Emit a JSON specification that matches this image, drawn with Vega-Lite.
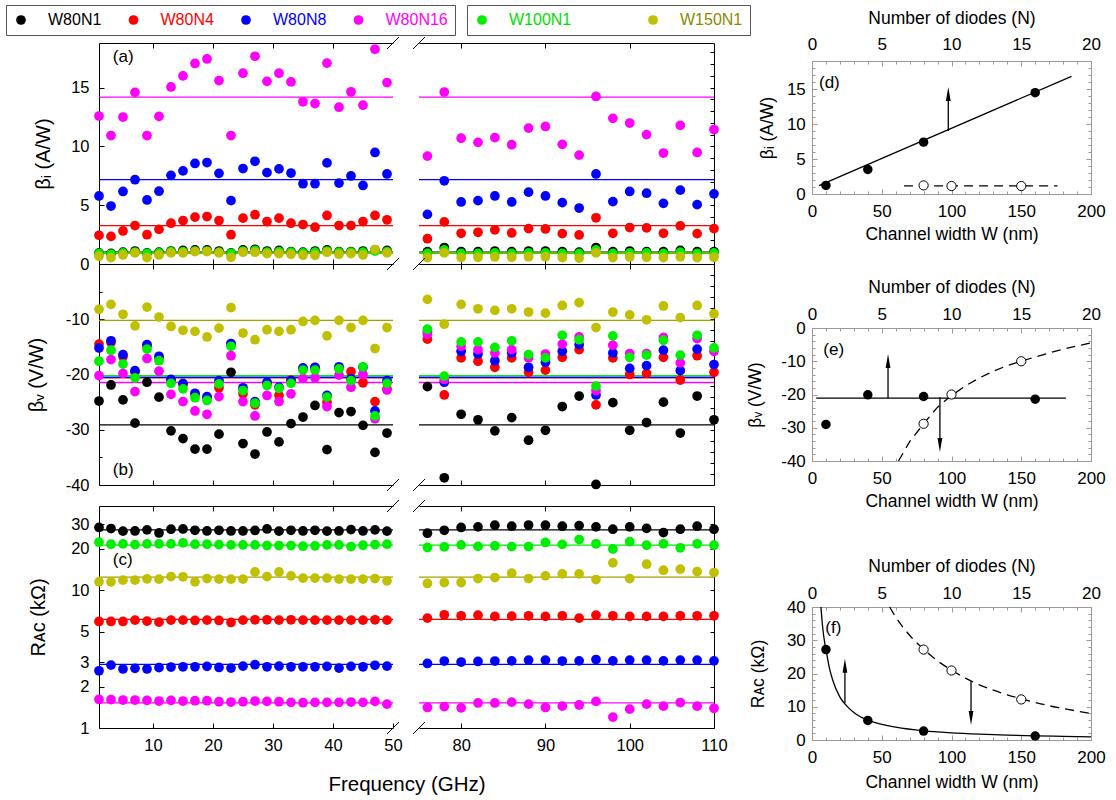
{
"$schema":"https://vega.github.io/schema/vega-lite/v6.json",
"padding":{"left":5,"top":4,"right":5,"bottom":5},
"background":"white",
"config":{
 "font":"Liberation Sans",
 "view":{"stroke":null},
 "axis":{"labelFont":"Liberation Sans","titleFont":"Liberation Sans","titleFontWeight":"normal","labelColor":"black","titleColor":"black","domainColor":"black","tickColor":"black","grid":false,"labelFlush":false,"labelOverlap":false,"domainWidth":1,"tickWidth":1,"titleLimit":0},
 "text":{"font":"Liberation Sans"}
},
"datasets":{
"mn":[
{"s":"W80N1","bi":1.0,"bv":-29.1,"r":27.4},
{"s":"W80N4","bi":3.27,"bv":-20.6,"r":6.13},
{"s":"W80N8","bi":7.17,"bv":-20.5,"r":2.89},
{"s":"W80N16","bi":14.2,"bv":-21.45,"r":1.52},
{"s":"W100N1","bi":0.97,"bv":-20.2,"r":21.2},
{"s":"W150N1","bi":0.9,"bv":-10.2,"r":12.42}
],
"m":[
{"s":"W80N1","f":1,"bi":0.95,"bv":-24.8,"r":28.5},
{"s":"W80N1","f":3,"bi":0.9,"bv":-21.9,"r":28.0},
{"s":"W80N1","f":5,"bi":1.0,"bv":-24.6,"r":26.8},
{"s":"W80N1","f":7,"bi":1.1,"bv":-28.8,"r":26.9},
{"s":"W80N1","f":9,"bi":0.95,"bv":-21.4,"r":27.4},
{"s":"W80N1","f":11,"bi":1.0,"bv":-24.1,"r":26.0},
{"s":"W80N1","f":13,"bi":1.1,"bv":-30.2,"r":27.7},
{"s":"W80N1","f":15,"bi":1.15,"bv":-31.6,"r":27.8},
{"s":"W80N1","f":17,"bi":1.2,"bv":-33.5,"r":27.2},
{"s":"W80N1","f":19,"bi":1.2,"bv":-33.5,"r":26.9},
{"s":"W80N1","f":21,"bi":1.1,"bv":-30.8,"r":27.2},
{"s":"W80N1","f":23,"bi":0.95,"bv":-19.6,"r":26.9},
{"s":"W80N1","f":25,"bi":1.2,"bv":-32.5,"r":26.9},
{"s":"W80N1","f":27,"bi":1.25,"bv":-34.4,"r":27.1},
{"s":"W80N1","f":29,"bi":1.1,"bv":-30.4,"r":27.8},
{"s":"W80N1","f":31,"bi":1.15,"bv":-32.2,"r":26.8},
{"s":"W80N1","f":33,"bi":1.05,"bv":-28.9,"r":27.2},
{"s":"W80N1","f":35,"bi":1.0,"bv":-27.7,"r":26.9},
{"s":"W80N1","f":37,"bi":1.1,"bv":-25.6,"r":27.2},
{"s":"W80N1","f":39,"bi":1.2,"bv":-33.6,"r":26.8},
{"s":"W80N1","f":41,"bi":1.05,"bv":-26.9,"r":26.9},
{"s":"W80N1","f":43,"bi":1.05,"bv":-26.7,"r":27.5},
{"s":"W80N1","f":45,"bi":1.1,"bv":-29.2,"r":26.9},
{"s":"W80N1","f":47,"bi":1.2,"bv":-34.1,"r":27.4},
{"s":"W80N1","f":49,"bi":1.15,"bv":-30.6,"r":26.8},
{"s":"W80N1","f":76,"bi":1.05,"bv":-22.2,"r":25.9},
{"s":"W80N1","f":78,"bi":1.4,"bv":-38.7,"r":27.2},
{"s":"W80N1","f":80,"bi":1.05,"bv":-27.2,"r":28.5},
{"s":"W80N1","f":82,"bi":1.05,"bv":-28.2,"r":28.8},
{"s":"W80N1","f":84,"bi":1.1,"bv":-30.2,"r":29.6},
{"s":"W80N1","f":86,"bi":1.05,"bv":-27.8,"r":29.1},
{"s":"W80N1","f":88,"bi":1.1,"bv":-31.9,"r":29.7},
{"s":"W80N1","f":90,"bi":1.1,"bv":-30.1,"r":29.6},
{"s":"W80N1","f":92,"bi":1.05,"bv":-25.8,"r":29.1},
{"s":"W80N1","f":94,"bi":1.0,"bv":-23.9,"r":29.4},
{"s":"W80N1","f":96,"bi":1.4,"bv":-39.9,"r":28.8},
{"s":"W80N1","f":98,"bi":1.05,"bv":-25.1,"r":27.7},
{"s":"W80N1","f":100,"bi":1.1,"bv":-30.1,"r":28.8},
{"s":"W80N1","f":102,"bi":1.05,"bv":-28.7,"r":28.1},
{"s":"W80N1","f":104,"bi":1.05,"bv":-25.0,"r":26.2},
{"s":"W80N1","f":106,"bi":1.15,"bv":-30.6,"r":27.7},
{"s":"W80N1","f":108,"bi":1.05,"bv":-23.9,"r":29.1},
{"s":"W80N1","f":110,"bi":1.05,"bv":-28.2,"r":27.7},
{"s":"W80N4","f":1,"bi":2.44,"bv":-14.5,"r":5.93},
{"s":"W80N4","f":3,"bi":2.35,"bv":-14.2,"r":5.93},
{"s":"W80N4","f":5,"bi":2.81,"bv":-16.8,"r":5.93},
{"s":"W80N4","f":7,"bi":3.27,"bv":-19.6,"r":6.06},
{"s":"W80N4","f":9,"bi":2.49,"bv":-14.8,"r":5.96},
{"s":"W80N4","f":11,"bi":2.95,"bv":-17.0,"r":5.86},
{"s":"W80N4","f":13,"bi":3.47,"bv":-21.0,"r":6.06},
{"s":"W80N4","f":15,"bi":3.7,"bv":-21.8,"r":6.06},
{"s":"W80N4","f":17,"bi":3.99,"bv":-23.6,"r":6.03},
{"s":"W80N4","f":19,"bi":4.04,"bv":-24.2,"r":6.06},
{"s":"W80N4","f":21,"bi":3.7,"bv":-22.4,"r":6.03},
{"s":"W80N4","f":23,"bi":2.49,"bv":-14.6,"r":5.83},
{"s":"W80N4","f":25,"bi":3.9,"bv":-23.5,"r":6.06},
{"s":"W80N4","f":27,"bi":4.19,"bv":-25.5,"r":6.1},
{"s":"W80N4","f":29,"bi":3.61,"bv":-21.6,"r":6.1},
{"s":"W80N4","f":31,"bi":3.9,"bv":-23.8,"r":6.06},
{"s":"W80N4","f":33,"bi":3.47,"bv":-21.0,"r":6.1},
{"s":"W80N4","f":35,"bi":3.36,"bv":-19.0,"r":6.06},
{"s":"W80N4","f":37,"bi":3.13,"bv":-18.8,"r":6.06},
{"s":"W80N4","f":39,"bi":4.13,"bv":-25.0,"r":6.06},
{"s":"W80N4","f":41,"bi":3.27,"bv":-18.8,"r":6.06},
{"s":"W80N4","f":43,"bi":3.27,"bv":-19.5,"r":6.06},
{"s":"W80N4","f":45,"bi":3.61,"bv":-21.5,"r":6.06},
{"s":"W80N4","f":47,"bi":4.13,"bv":-24.9,"r":6.1},
{"s":"W80N4","f":49,"bi":3.76,"bv":-22.6,"r":6.06},
{"s":"W80N4","f":76,"bi":2.15,"bv":-13.6,"r":6.27},
{"s":"W80N4","f":78,"bi":3.58,"bv":-23.7,"r":6.63},
{"s":"W80N4","f":80,"bi":2.61,"bv":-17.0,"r":6.52},
{"s":"W80N4","f":82,"bi":2.7,"bv":-17.6,"r":6.59},
{"s":"W80N4","f":84,"bi":2.9,"bv":-18.7,"r":6.45},
{"s":"W80N4","f":86,"bi":2.64,"bv":-17.0,"r":6.48},
{"s":"W80N4","f":88,"bi":3.01,"bv":-19.6,"r":6.52},
{"s":"W80N4","f":90,"bi":2.98,"bv":-19.2,"r":6.45},
{"s":"W80N4","f":92,"bi":2.58,"bv":-16.9,"r":6.52},
{"s":"W80N4","f":94,"bi":2.47,"bv":-15.5,"r":6.27},
{"s":"W80N4","f":96,"bi":3.93,"bv":-25.5,"r":6.59},
{"s":"W80N4","f":98,"bi":2.61,"bv":-17.0,"r":6.52},
{"s":"W80N4","f":100,"bi":3.1,"bv":-20.0,"r":6.45},
{"s":"W80N4","f":102,"bi":3.07,"bv":-19.8,"r":6.45},
{"s":"W80N4","f":104,"bi":2.61,"bv":-16.9,"r":6.45},
{"s":"W80N4","f":106,"bi":3.24,"bv":-21.0,"r":6.52},
{"s":"W80N4","f":108,"bi":2.58,"bv":-16.6,"r":6.52},
{"s":"W80N4","f":110,"bi":3.01,"bv":-19.6,"r":6.52},
{"s":"W80N8","f":1,"bi":5.79,"bv":-15.2,"r":2.6},
{"s":"W80N8","f":3,"bi":4.93,"bv":-13.9,"r":2.86},
{"s":"W80N8","f":5,"bi":6.17,"bv":-16.4,"r":2.68},
{"s":"W80N8","f":7,"bi":7.17,"bv":-19.3,"r":2.71},
{"s":"W80N8","f":9,"bi":5.45,"bv":-14.6,"r":2.68},
{"s":"W80N8","f":11,"bi":6.19,"bv":-16.7,"r":2.74},
{"s":"W80N8","f":13,"bi":7.54,"bv":-20.9,"r":2.77},
{"s":"W80N8","f":15,"bi":7.92,"bv":-21.6,"r":2.78},
{"s":"W80N8","f":17,"bi":8.55,"bv":-23.4,"r":2.78},
{"s":"W80N8","f":19,"bi":8.63,"bv":-24.0,"r":2.8},
{"s":"W80N8","f":21,"bi":7.71,"bv":-21.1,"r":2.75},
{"s":"W80N8","f":23,"bi":5.39,"bv":-14.4,"r":2.72},
{"s":"W80N8","f":25,"bi":8.12,"bv":-22.4,"r":2.81},
{"s":"W80N8","f":27,"bi":8.74,"bv":-24.9,"r":2.88},
{"s":"W80N8","f":29,"bi":7.77,"bv":-21.4,"r":2.78},
{"s":"W80N8","f":31,"bi":8.09,"bv":-22.3,"r":2.81},
{"s":"W80N8","f":33,"bi":7.74,"bv":-21.1,"r":2.78},
{"s":"W80N8","f":35,"bi":6.83,"bv":-18.8,"r":2.78},
{"s":"W80N8","f":37,"bi":6.83,"bv":-18.7,"r":2.78},
{"s":"W80N8","f":39,"bi":8.6,"bv":-23.8,"r":2.8},
{"s":"W80N8","f":41,"bi":6.88,"bv":-18.6,"r":2.72},
{"s":"W80N8","f":43,"bi":7.49,"bv":-20.8,"r":2.8},
{"s":"W80N8","f":45,"bi":6.68,"bv":-18.7,"r":2.78},
{"s":"W80N8","f":47,"bi":9.49,"bv":-26.6,"r":2.85},
{"s":"W80N8","f":49,"bi":7.66,"bv":-21.1,"r":2.81},
{"s":"W80N8","f":76,"bi":4.22,"bv":-12.3,"r":2.94},
{"s":"W80N8","f":78,"bi":7.08,"bv":-21.4,"r":3.06},
{"s":"W80N8","f":80,"bi":5.28,"bv":-15.8,"r":3.01},
{"s":"W80N8","f":82,"bi":5.39,"bv":-16.3,"r":3.04},
{"s":"W80N8","f":84,"bi":5.79,"bv":-17.5,"r":3.06},
{"s":"W80N8","f":86,"bi":5.28,"bv":-16.1,"r":3.07},
{"s":"W80N8","f":88,"bi":6.11,"bv":-18.7,"r":3.11},
{"s":"W80N8","f":90,"bi":5.79,"bv":-17.8,"r":3.11},
{"s":"W80N8","f":92,"bi":5.22,"bv":-15.8,"r":3.06},
{"s":"W80N8","f":94,"bi":4.76,"bv":-14.6,"r":3.07},
{"s":"W80N8","f":96,"bi":7.66,"bv":-23.7,"r":3.14},
{"s":"W80N8","f":98,"bi":5.31,"bv":-16.1,"r":3.07},
{"s":"W80N8","f":100,"bi":6.17,"bv":-18.9,"r":3.11},
{"s":"W80N8","f":102,"bi":6.02,"bv":-18.4,"r":3.11},
{"s":"W80N8","f":104,"bi":5.16,"bv":-15.6,"r":3.07},
{"s":"W80N8","f":106,"bi":6.28,"bv":-19.3,"r":3.11},
{"s":"W80N8","f":108,"bi":5.05,"bv":-15.4,"r":3.11},
{"s":"W80N8","f":110,"bi":5.97,"bv":-18.2,"r":3.07},
{"s":"W80N16","f":1,"bi":12.59,"bv":-20.2,"r":1.61},
{"s":"W80N16","f":3,"bi":10.93,"bv":-17.3,"r":1.605},
{"s":"W80N16","f":5,"bi":12.5,"bv":-19.8,"r":1.596},
{"s":"W80N16","f":7,"bi":14.6,"bv":-23.1,"r":1.596},
{"s":"W80N16","f":9,"bi":10.93,"bv":-17.1,"r":1.587},
{"s":"W80N16","f":11,"bi":12.56,"bv":-19.4,"r":1.569},
{"s":"W80N16","f":13,"bi":15.06,"bv":-23.6,"r":1.587},
{"s":"W80N16","f":15,"bi":16.0,"bv":-24.9,"r":1.569},
{"s":"W80N16","f":17,"bi":17.06,"bv":-26.6,"r":1.578},
{"s":"W80N16","f":19,"bi":17.44,"bv":-27.2,"r":1.578},
{"s":"W80N16","f":21,"bi":15.6,"bv":-24.0,"r":1.552},
{"s":"W80N16","f":23,"bi":10.93,"bv":-16.6,"r":1.543},
{"s":"W80N16","f":25,"bi":16.23,"bv":-24.9,"r":1.552},
{"s":"W80N16","f":27,"bi":17.67,"bv":-27.5,"r":1.569},
{"s":"W80N16","f":29,"bi":15.54,"bv":-23.8,"r":1.56},
{"s":"W80N16","f":31,"bi":16.23,"bv":-24.9,"r":1.552},
{"s":"W80N16","f":33,"bi":15.49,"bv":-23.5,"r":1.535},
{"s":"W80N16","f":35,"bi":13.8,"bv":-20.7,"r":1.526},
{"s":"W80N16","f":37,"bi":13.65,"bv":-20.6,"r":1.535},
{"s":"W80N16","f":39,"bi":17.09,"bv":-25.8,"r":1.535},
{"s":"W80N16","f":41,"bi":13.34,"bv":-20.1,"r":1.535},
{"s":"W80N16","f":43,"bi":14.65,"bv":-22.3,"r":1.543},
{"s":"W80N16","f":45,"bi":13.51,"bv":-20.0,"r":1.535},
{"s":"W80N16","f":47,"bi":18.27,"bv":-28.0,"r":1.56},
{"s":"W80N16","f":49,"bi":15.43,"bv":-22.8,"r":1.49},
{"s":"W80N16","f":76,"bi":9.18,"bv":-12.7,"r":1.41},
{"s":"W80N16","f":78,"bi":14.63,"bv":-20.9,"r":1.43},
{"s":"W80N16","f":80,"bi":10.7,"bv":-14.9,"r":1.4},
{"s":"W80N16","f":82,"bi":10.35,"bv":-15.5,"r":1.52},
{"s":"W80N16","f":84,"bi":10.75,"bv":-16.1,"r":1.52},
{"s":"W80N16","f":86,"bi":10.15,"bv":-15.5,"r":1.54},
{"s":"W80N16","f":88,"bi":11.56,"bv":-17.0,"r":1.49},
{"s":"W80N16","f":90,"bi":11.7,"bv":-16.3,"r":1.41},
{"s":"W80N16","f":92,"bi":10.18,"bv":-14.5,"r":1.44},
{"s":"W80N16","f":94,"bi":9.26,"bv":-13.2,"r":1.47},
{"s":"W80N16","f":96,"bi":14.25,"bv":-22.9,"r":1.56},
{"s":"W80N16","f":98,"bi":12.39,"bv":-14.7,"r":1.2},
{"s":"W80N16","f":100,"bi":11.99,"bv":-16.2,"r":1.37},
{"s":"W80N16","f":102,"bi":11.01,"bv":-16.2,"r":1.49},
{"s":"W80N16","f":104,"bi":9.44,"bv":-13.3,"r":1.44},
{"s":"W80N16","f":106,"bi":11.79,"bv":-17.9,"r":1.53},
{"s":"W80N16","f":108,"bi":9.49,"bv":-13.5,"r":1.44},
{"s":"W80N16","f":110,"bi":11.44,"bv":-15.8,"r":1.39},
{"s":"W100N1","f":1,"bi":0.9,"bv":-17.6,"r":22.27},
{"s":"W100N1","f":3,"bi":0.85,"bv":-15.6,"r":21.54},
{"s":"W100N1","f":5,"bi":0.95,"bv":-18.1,"r":21.66},
{"s":"W100N1","f":7,"bi":1.0,"bv":-20.6,"r":21.42},
{"s":"W100N1","f":9,"bi":0.9,"bv":-15.4,"r":21.66},
{"s":"W100N1","f":11,"bi":0.95,"bv":-17.5,"r":21.66},
{"s":"W100N1","f":13,"bi":1.05,"bv":-21.6,"r":21.66},
{"s":"W100N1","f":15,"bi":1.05,"bv":-22.6,"r":22.02},
{"s":"W100N1","f":17,"bi":1.1,"bv":-24.2,"r":21.54},
{"s":"W100N1","f":19,"bi":1.1,"bv":-24.7,"r":21.54},
{"s":"W100N1","f":21,"bi":1.0,"bv":-21.7,"r":21.42},
{"s":"W100N1","f":23,"bi":0.9,"bv":-14.9,"r":21.3},
{"s":"W100N1","f":25,"bi":1.1,"bv":-22.9,"r":21.3},
{"s":"W100N1","f":27,"bi":1.15,"bv":-25.2,"r":21.3},
{"s":"W100N1","f":29,"bi":1.0,"bv":-22.0,"r":21.07},
{"s":"W100N1","f":31,"bi":1.05,"bv":-22.5,"r":21.07},
{"s":"W100N1","f":33,"bi":1.0,"bv":-21.6,"r":21.07},
{"s":"W100N1","f":35,"bi":0.95,"bv":-19.2,"r":20.84},
{"s":"W100N1","f":37,"bi":1.0,"bv":-19.2,"r":20.96},
{"s":"W100N1","f":39,"bi":1.1,"bv":-24.1,"r":21.3},
{"s":"W100N1","f":41,"bi":1.0,"bv":-19.0,"r":21.3},
{"s":"W100N1","f":43,"bi":1.0,"bv":-21.1,"r":20.73},
{"s":"W100N1","f":45,"bi":1.0,"bv":-18.6,"r":21.19},
{"s":"W100N1","f":47,"bi":1.1,"bv":-27.5,"r":21.42},
{"s":"W100N1","f":49,"bi":1.05,"bv":-21.6,"r":21.54},
{"s":"W100N1","f":76,"bi":0.9,"bv":-11.8,"r":20.4},
{"s":"W100N1","f":78,"bi":1.2,"bv":-20.3,"r":20.6},
{"s":"W100N1","f":80,"bi":0.9,"bv":-14.1,"r":21.3},
{"s":"W100N1","f":82,"bi":0.9,"bv":-14.1,"r":20.8},
{"s":"W100N1","f":84,"bi":0.95,"bv":-15.1,"r":21.0},
{"s":"W100N1","f":86,"bi":0.9,"bv":-13.9,"r":20.7},
{"s":"W100N1","f":88,"bi":0.95,"bv":-16.4,"r":20.7},
{"s":"W100N1","f":90,"bi":0.95,"bv":-17.0,"r":22.2},
{"s":"W100N1","f":92,"bi":0.9,"bv":-12.9,"r":21.5},
{"s":"W100N1","f":94,"bi":0.9,"bv":-13.7,"r":23.3},
{"s":"W100N1","f":96,"bi":1.2,"bv":-22.1,"r":21.7},
{"s":"W100N1","f":98,"bi":0.9,"bv":-13.0,"r":19.9},
{"s":"W100N1","f":100,"bi":0.95,"bv":-16.9,"r":22.5},
{"s":"W100N1","f":102,"bi":0.95,"bv":-16.5,"r":21.2},
{"s":"W100N1","f":104,"bi":0.9,"bv":-13.8,"r":21.7},
{"s":"W100N1","f":106,"bi":1.0,"bv":-16.5,"r":20.3},
{"s":"W100N1","f":108,"bi":0.9,"bv":-12.9,"r":21.7},
{"s":"W100N1","f":110,"bi":0.95,"bv":-15.2,"r":21.2},
{"s":"W150N1","f":1,"bi":0.66,"bv":-8.2,"r":11.49},
{"s":"W150N1","f":3,"bi":0.54,"bv":-7.3,"r":11.49},
{"s":"W150N1","f":5,"bi":0.77,"bv":-9.1,"r":11.82},
{"s":"W150N1","f":7,"bi":0.95,"bv":-11.2,"r":11.82},
{"s":"W150N1","f":9,"bi":0.54,"bv":-7.8,"r":12.08},
{"s":"W150N1","f":11,"bi":0.77,"bv":-9.6,"r":12.02},
{"s":"W150N1","f":13,"bi":0.95,"bv":-11.3,"r":12.56},
{"s":"W150N1","f":15,"bi":0.95,"bv":-12.0,"r":12.5},
{"s":"W150N1","f":17,"bi":1.06,"bv":-12.2,"r":11.49},
{"s":"W150N1","f":19,"bi":1.06,"bv":-13.2,"r":12.15},
{"s":"W150N1","f":21,"bi":0.95,"bv":-11.6,"r":12.02},
{"s":"W150N1","f":23,"bi":0.57,"bv":-7.9,"r":12.02},
{"s":"W150N1","f":25,"bi":1.0,"bv":-12.5,"r":12.02},
{"s":"W150N1","f":27,"bi":1.0,"bv":-13.7,"r":13.58},
{"s":"W150N1","f":29,"bi":0.89,"bv":-11.9,"r":12.56},
{"s":"W150N1","f":31,"bi":0.89,"bv":-12.2,"r":13.58},
{"s":"W150N1","f":33,"bi":0.83,"bv":-11.9,"r":12.7},
{"s":"W150N1","f":35,"bi":0.75,"bv":-10.4,"r":12.22},
{"s":"W150N1","f":37,"bi":0.75,"bv":-10.2,"r":12.22},
{"s":"W150N1","f":39,"bi":1.0,"bv":-13.0,"r":12.22},
{"s":"W150N1","f":41,"bi":0.83,"bv":-10.2,"r":12.02},
{"s":"W150N1","f":43,"bi":0.89,"bv":-11.5,"r":12.02},
{"s":"W150N1","f":45,"bi":0.77,"bv":-10.2,"r":12.02},
{"s":"W150N1","f":47,"bi":1.23,"bv":-15.3,"r":12.15},
{"s":"W150N1","f":49,"bi":0.95,"bv":-11.5,"r":11.68},
{"s":"W150N1","f":76,"bi":0.55,"bv":-6.4,"r":11.18},
{"s":"W150N1","f":78,"bi":0.95,"bv":-10.9,"r":11.36},
{"s":"W150N1","f":80,"bi":0.55,"bv":-7.3,"r":11.36},
{"s":"W150N1","f":82,"bi":0.58,"bv":-8.1,"r":12.15},
{"s":"W150N1","f":84,"bi":0.6,"bv":-8.4,"r":12.35},
{"s":"W150N1","f":86,"bi":0.58,"bv":-8.1,"r":13.28},
{"s":"W150N1","f":88,"bi":0.62,"bv":-8.7,"r":12.15},
{"s":"W150N1","f":90,"bi":0.62,"bv":-8.9,"r":12.7},
{"s":"W150N1","f":92,"bi":0.55,"bv":-7.5,"r":13.13},
{"s":"W150N1","f":94,"bi":0.5,"bv":-7.0,"r":13.13},
{"s":"W150N1","f":96,"bi":0.95,"bv":-11.5,"r":11.95},
{"s":"W150N1","f":98,"bi":0.55,"bv":-8.7,"r":15.78},
{"s":"W150N1","f":100,"bi":0.6,"bv":-9.2,"r":12.15},
{"s":"W150N1","f":102,"bi":0.58,"bv":-10.1,"r":15.43},
{"s":"W150N1","f":104,"bi":0.55,"bv":-7.6,"r":13.96},
{"s":"W150N1","f":106,"bi":0.62,"bv":-9.7,"r":14.2},
{"s":"W150N1","f":108,"bi":0.55,"bv":-7.5,"r":13.65},
{"s":"W150N1","f":110,"bi":0.58,"bv":-9.0,"r":13.43}
]
},
"hconcat":[
{
 "concat":[
  {
   "width":294,"height":221,
   "encoding":{"y":{"field":"bi","type":"quantitative","scale":{"domain":[0,18.8],"nice":false,"zero":false},"axis":{"orient":"left","values":[0,5,10,15],"tickSize":-5,"labelPadding":15,"labelFontSize":16.5,"title":"βᵢ (A/W)","titleFontSize":20,"titleX":-56,"titleY":110.5,"titleAngle":-90,"titleBaseline":"middle","titleAlign":"center"}}},
   "layer":[
    {"data":{"name":"mn"},"mark":{"type":"rule","strokeWidth":1.3},"encoding":{"stroke":{"field":"s","type":"nominal","scale":{"domain":["W80N1","W80N4","W80N8","W80N16","W100N1","W150N1"],"range":["#000000","#ff0000","#0000ff","#ff00ff","#00ee00","#a0a000"]},"legend":null}}},
    {"data":{"name":"m"},"transform":[{"filter":"datum.f < 60 && datum.s !== 'W100N1' && datum.s !== 'W150N1'"}],"mark":{"type":"circle","size":95,"opacity":1},
     "encoding":{"x":{"field":"f","type":"quantitative","scale":{"domain":[1,50],"nice":false,"zero":false},"axis":{"orient":"bottom","values":[10,20,30,40],"labels":false,"tickSize":-5,"title":null}},
      "color":{"field":"s","type":"nominal","scale":{"domain":["W80N1","W80N4","W80N8","W80N16"],"range":["#000000","#ff0000","#0000ff","#ff00ff"]},
       "legend":{"title":null,"orient":"none","legendX":-93,"legendY":-38,"direction":"horizontal","columnPadding":23.5,"labelOffset":19,"padding":7,"strokeColor":"#555555","symbolType":"circle","symbolSize":95,"symbolStrokeWidth":0,"symbolOpacity":1,"labelFontSize":16,"labelFont":"Liberation Sans","encode":{"labels":{"update":{"fill":{"signal":"datum.value === 'W80N4' ? '#ff0000' : datum.value === 'W80N8' ? '#0000ff' : datum.value === 'W80N16' ? '#ff00ff' : '#000000'"}}}}}}}},
    {"data":{"name":"m"},"transform":[{"filter":"datum.f < 60 && (datum.s === 'W100N1' || datum.s === 'W150N1')"}],"mark":{"type":"circle","size":95,"opacity":1},
     "encoding":{"x":{"field":"f","type":"quantitative","scale":{"domain":[1,50],"nice":false,"zero":false},"axis":{"orient":"top","values":[10,20,30,40],"labels":false,"tickSize":-5,"title":null}},
      "fill":{"field":"s","type":"nominal","scale":{"domain":["W100N1","W150N1"],"range":["#00ee00","#c0c000"]},
       "legend":{"title":null,"orient":"none","legendX":368,"legendY":-38,"direction":"horizontal","columnPadding":73,"labelOffset":19,"padding":7,"strokeColor":"#555555","symbolType":"circle","symbolSize":95,"symbolStrokeWidth":0,"symbolOpacity":1,"labelFontSize":16,"labelFont":"Liberation Sans","encode":{"labels":{"update":{"fill":{"signal":"datum.value === 'W150N1' ? '#8a8a00' : '#00dd00'"}}}}}}}},
    {"data":{"values":[{"x":50,"y":0},{"x":50,"y":18.8}]},"mark":{"type":"point","shape":"M-1,1L1,-1","filled":false,"stroke":"black","strokeWidth":1,"size":144,"opacity":1},"encoding":{"x":{"field":"x","type":"quantitative","axis":null},"y":{"field":"y","type":"quantitative"}}},
    {"data":{"values":[{"t":"(a)","x":3.3,"y":17.6}]},"mark":{"type":"text","align":"left","baseline":"middle","fontSize":17},"encoding":{"x":{"field":"x","type":"quantitative","axis":null},"y":{"field":"y","type":"quantitative"},"text":{"field":"t"}}}
   ],
   "resolve":{"axis":{"x":"independent"}}
  },
  {
   "width":295,"height":221,
   "encoding":{"y":{"field":"bi","type":"quantitative","scale":{"domain":[0,18.8],"nice":false,"zero":false},"axis":{"orient":"right","values":[1,2,3,4,5,6,7,8,9,10,11,12,13,14,15,16,17,18],"labels":false,"tickSize":-4,"title":null}}},
   "layer":[
    {"data":{"name":"mn"},"mark":{"type":"rule","strokeWidth":1.3},"encoding":{"stroke":{"field":"s","type":"nominal","scale":{"domain":["W80N1","W80N4","W80N8","W80N16","W100N1","W150N1"],"range":["#000000","#ff0000","#0000ff","#ff00ff","#00ee00","#a0a000"]},"legend":null}}},
    {"data":{"name":"m"},"transform":[{"filter":"datum.f > 60 && datum.s !== 'W100N1' && datum.s !== 'W150N1'"}],"mark":{"type":"circle","size":95,"opacity":1},
     "encoding":{"x":{"field":"f","type":"quantitative","scale":{"domain":[75,110],"nice":false,"zero":false},"axis":{"orient":"bottom","values":[80,90,100],"labels":false,"tickSize":-5,"title":null}},
      "color":{"field":"s","type":"nominal","scale":{"domain":["W80N1","W80N4","W80N8","W80N16"],"range":["#000000","#ff0000","#0000ff","#ff00ff"]}}}},
    {"data":{"name":"m"},"transform":[{"filter":"datum.f > 60 && (datum.s === 'W100N1' || datum.s === 'W150N1')"}],"mark":{"type":"circle","size":95,"opacity":1},
     "encoding":{"x":{"field":"f","type":"quantitative","scale":{"domain":[75,110],"nice":false,"zero":false},"axis":{"orient":"top","values":[80,90,100],"labels":false,"tickSize":-5,"title":null}},
      "fill":{"field":"s","type":"nominal","scale":{"domain":["W100N1","W150N1"],"range":["#00ee00","#c0c000"]}}}},
    {"data":{"values":[{"x":75,"y":0},{"x":75,"y":18.8}]},"mark":{"type":"point","shape":"M-1,1L1,-1","filled":false,"stroke":"black","strokeWidth":1,"size":144,"opacity":1},"encoding":{"x":{"field":"x","type":"quantitative","axis":null},"y":{"field":"y","type":"quantitative"}}}
   ],
   "resolve":{"axis":{"x":"independent"}}
  },
  {
   "width":294,"height":221,
   "encoding":{"y":{"field":"bv","type":"quantitative","scale":{"domain":[-40,0],"nice":false,"zero":false},"axis":{"orient":"left","values":[-40,-35,-30,-25,-20,-15,-10,-5],"labelExpr":"datum.value % 10 === 0 ? replace(datum.label, '−', '-') : ''","tickSize":{"condition":{"test":"datum.value % 10 === 0","value":-5},"value":-3},"labelPadding":15,"labelFontSize":16.5,"title":"βᵥ (V/W)","titleFontSize":20,"titleX":-63,"titleY":110.5,"titleAngle":-90,"titleBaseline":"middle","titleAlign":"center"}}},
   "layer":[
    {"data":{"name":"mn"},"mark":{"type":"rule","strokeWidth":1.3},"encoding":{"stroke":{"field":"s","type":"nominal","scale":{"domain":["W80N1","W80N4","W80N8","W80N16","W100N1","W150N1"],"range":["#000000","#ff0000","#0000ff","#ff00ff","#00ee00","#a0a000"]},"legend":null}}},
    {"data":{"name":"m"},"transform":[{"filter":"datum.f < 60 && datum.s !== 'W100N1' && datum.s !== 'W150N1'"}],"mark":{"type":"circle","size":95,"opacity":1},
     "encoding":{"x":{"field":"f","type":"quantitative","scale":{"domain":[1,50],"nice":false,"zero":false},"axis":{"orient":"bottom","values":[10,20,30,40],"labels":false,"tickSize":-5,"title":null}},
      "color":{"field":"s","type":"nominal","scale":{"domain":["W80N1","W80N4","W80N8","W80N16"],"range":["#000000","#ff0000","#0000ff","#ff00ff"]}}}},
    {"data":{"name":"m"},"transform":[{"filter":"datum.f < 60 && (datum.s === 'W100N1' || datum.s === 'W150N1')"}],"mark":{"type":"circle","size":95,"opacity":1},
     "encoding":{"x":{"field":"f","type":"quantitative","scale":{"domain":[1,50],"nice":false,"zero":false},"axis":{"orient":"top","values":[10,20,30,40],"labels":false,"tickSize":-5,"title":null}},
      "fill":{"field":"s","type":"nominal","scale":{"domain":["W100N1","W150N1"],"range":["#00ee00","#c0c000"]}}}},
    {"data":{"values":[{"x":50,"y":-40},{"x":50,"y":0}]},"mark":{"type":"point","shape":"M-1,1L1,-1","filled":false,"stroke":"black","strokeWidth":1,"size":144,"opacity":1},"encoding":{"x":{"field":"x","type":"quantitative","axis":null},"y":{"field":"y","type":"quantitative"}}},
    {"data":{"values":[{"t":"(b)","x":3.3,"y":-37.3}]},"mark":{"type":"text","align":"left","baseline":"middle","fontSize":17},"encoding":{"x":{"field":"x","type":"quantitative","axis":null},"y":{"field":"y","type":"quantitative"},"text":{"field":"t"}}}
   ],
   "resolve":{"axis":{"x":"independent"}}
  },
  {
   "width":295,"height":221,
   "encoding":{"y":{"field":"bv","type":"quantitative","scale":{"domain":[-40,0],"nice":false,"zero":false},"axis":{"orient":"right","values":[-38,-36,-34,-32,-30,-28,-26,-24,-22,-20,-18,-16,-14,-12,-10,-8,-6,-4,-2],"labels":false,"tickSize":-4,"title":null}}},
   "layer":[
    {"data":{"name":"mn"},"mark":{"type":"rule","strokeWidth":1.3},"encoding":{"stroke":{"field":"s","type":"nominal","scale":{"domain":["W80N1","W80N4","W80N8","W80N16","W100N1","W150N1"],"range":["#000000","#ff0000","#0000ff","#ff00ff","#00ee00","#a0a000"]},"legend":null}}},
    {"data":{"name":"m"},"transform":[{"filter":"datum.f > 60 && datum.s !== 'W100N1' && datum.s !== 'W150N1'"}],"mark":{"type":"circle","size":95,"opacity":1},
     "encoding":{"x":{"field":"f","type":"quantitative","scale":{"domain":[75,110],"nice":false,"zero":false},"axis":{"orient":"bottom","values":[80,90,100],"labels":false,"tickSize":-5,"title":null}},
      "color":{"field":"s","type":"nominal","scale":{"domain":["W80N1","W80N4","W80N8","W80N16"],"range":["#000000","#ff0000","#0000ff","#ff00ff"]}}}},
    {"data":{"name":"m"},"transform":[{"filter":"datum.f > 60 && (datum.s === 'W100N1' || datum.s === 'W150N1')"}],"mark":{"type":"circle","size":95,"opacity":1},
     "encoding":{"x":{"field":"f","type":"quantitative","scale":{"domain":[75,110],"nice":false,"zero":false},"axis":{"orient":"top","values":[80,90,100],"labels":false,"tickSize":-5,"title":null}},
      "fill":{"field":"s","type":"nominal","scale":{"domain":["W100N1","W150N1"],"range":["#00ee00","#c0c000"]}}}},
    {"data":{"values":[{"x":75,"y":-40},{"x":75,"y":0}]},"mark":{"type":"point","shape":"M-1,1L1,-1","filled":false,"stroke":"black","strokeWidth":1,"size":144,"opacity":1},"encoding":{"x":{"field":"x","type":"quantitative","axis":null},"y":{"field":"y","type":"quantitative"}}}
   ],
   "resolve":{"axis":{"x":"independent"}}
  },
  {
   "width":294,"height":243,
   "encoding":{"y":{"field":"r","type":"quantitative","scale":{"type":"log","domain":[1,40.8],"range":[243,21],"nice":false,"zero":false},"axis":{"orient":"left","values":[1,2,3,5,10,20,30],"format":"d","tickSize":-5,"labelPadding":15,"labelFontSize":16.5,"title":"Rᴀᴄ (kΩ)","titleFontSize":20,"titleX":-61,"titleY":132,"titleAngle":-90,"titleBaseline":"middle","titleAlign":"center"}}},
   "layer":[
    {"data":{"name":"mn"},"mark":{"type":"rule","strokeWidth":1.3},"encoding":{"stroke":{"field":"s","type":"nominal","scale":{"domain":["W80N1","W80N4","W80N8","W80N16","W100N1","W150N1"],"range":["#000000","#ff0000","#0000ff","#ff00ff","#00ee00","#a0a000"]},"legend":null}}},
    {"data":{"name":"m"},"transform":[{"filter":"datum.f < 60 && datum.s !== 'W100N1' && datum.s !== 'W150N1'"}],"mark":{"type":"circle","size":95,"opacity":1},
     "encoding":{"x":{"field":"f","type":"quantitative","scale":{"domain":[1,50],"nice":false,"zero":false},"axis":{"orient":"bottom","values":[10,20,30,40,50],"tickSize":-5,"labelPadding":14.7,"labelFontSize":16.5,"title":"Frequency (GHz)","titleFontSize":20.5,"titleX":307.5,"titleY":56,"titleAngle":0,"titleBaseline":"middle","titleAlign":"center"}},
      "color":{"field":"s","type":"nominal","scale":{"domain":["W80N1","W80N4","W80N8","W80N16"],"range":["#000000","#ff0000","#0000ff","#ff00ff"]}}}},
    {"data":{"name":"m"},"transform":[{"filter":"datum.f < 60 && (datum.s === 'W100N1' || datum.s === 'W150N1')"}],"mark":{"type":"circle","size":95,"opacity":1},
     "encoding":{"x":{"field":"f","type":"quantitative","scale":{"domain":[1,50],"nice":false,"zero":false},"axis":{"orient":"top","offset":-21,"values":[10,20,30,40],"labels":false,"tickSize":-5,"title":null}},
      "fill":{"field":"s","type":"nominal","scale":{"domain":["W100N1","W150N1"],"range":["#00ee00","#c0c000"]}}}},
    {"data":{"values":[{"x":50,"y":1},{"x":50,"y":40.8}]},"mark":{"type":"point","shape":"M-1,1L1,-1","filled":false,"stroke":"black","strokeWidth":1,"size":144,"opacity":1},"encoding":{"x":{"field":"x","type":"quantitative","axis":null},"y":{"field":"y","type":"quantitative"}}},
    {"data":{"values":[{"t":"(c)","x":3.3,"y":16.6}]},"mark":{"type":"text","align":"left","baseline":"middle","fontSize":17},"encoding":{"x":{"field":"x","type":"quantitative","axis":null},"y":{"field":"y","type":"quantitative"},"text":{"field":"t"}}}
   ],
   "resolve":{"axis":{"x":"independent"}}
  },
  {
   "width":295,"height":243,
   "encoding":{"y":{"field":"r","type":"quantitative","scale":{"type":"log","domain":[1,40.8],"range":[243,21],"nice":false,"zero":false},"axis":{"orient":"right","values":[2,3,5,10,20,30],"labels":false,"tickSize":-4,"title":null}}},
   "layer":[
    {"data":{"name":"mn"},"mark":{"type":"rule","strokeWidth":1.3},"encoding":{"stroke":{"field":"s","type":"nominal","scale":{"domain":["W80N1","W80N4","W80N8","W80N16","W100N1","W150N1"],"range":["#000000","#ff0000","#0000ff","#ff00ff","#00ee00","#a0a000"]},"legend":null}}},
    {"data":{"name":"m"},"transform":[{"filter":"datum.f > 60 && datum.s !== 'W100N1' && datum.s !== 'W150N1'"}],"mark":{"type":"circle","size":95,"opacity":1},
     "encoding":{"x":{"field":"f","type":"quantitative","scale":{"domain":[75,110],"nice":false,"zero":false},"axis":{"orient":"bottom","values":[80,90,100,110],"tickSize":-5,"labelPadding":14.7,"labelFontSize":16.5,"title":null}},
      "color":{"field":"s","type":"nominal","scale":{"domain":["W80N1","W80N4","W80N8","W80N16"],"range":["#000000","#ff0000","#0000ff","#ff00ff"]}}}},
    {"data":{"name":"m"},"transform":[{"filter":"datum.f > 60 && (datum.s === 'W100N1' || datum.s === 'W150N1')"}],"mark":{"type":"circle","size":95,"opacity":1},
     "encoding":{"x":{"field":"f","type":"quantitative","scale":{"domain":[75,110],"nice":false,"zero":false},"axis":{"orient":"top","offset":-21,"values":[80,90,100],"labels":false,"tickSize":-5,"title":null}},
      "fill":{"field":"s","type":"nominal","scale":{"domain":["W100N1","W150N1"],"range":["#00ee00","#c0c000"]}}}},
    {"data":{"values":[{"x":75,"y":1},{"x":75,"y":40.8}]},"mark":{"type":"point","shape":"M-1,1L1,-1","filled":false,"stroke":"black","strokeWidth":1,"size":144,"opacity":1},"encoding":{"x":{"field":"x","type":"quantitative","axis":null},"y":{"field":"y","type":"quantitative"}}}
   ],
   "resolve":{"axis":{"x":"independent"}}
  }
 ],
 "columns":2,
 "spacing":{"row":0,"column":26},
 "bounds":"flush"
},
{
 "vconcat":[
  {
   "vconcat":[
    {
     "width":279,"height":151,
     "layer":[
      {
       "encoding":{
        "x":{"field":"N","type":"quantitative","scale":{"domain":[0,20],"nice":false,"zero":false},"axis":{"orient":"top","offset":-18,"title":"Number of diodes (N)","values":[0,1,2,3,4,5,6,7,8,9,10,11,12,13,14,15,16,17,18,19,20],"labelExpr":"datum.value % 5 === 0 ? datum.label : ''","tickSize":{"condition":{"test":"datum.value % 5 === 0","value":-5},"value":-3},"labelPadding":12.5,"labelFontSize":17,"titleFontSize":17.5,"titleY":-43,"titleBaseline":"middle","domainColor":"#999999","tickColor":"#999999"}},
        "y":{"field":"v","type":"quantitative","scale":{"domain":[0,19],"range":[151,18],"nice":false,"zero":false},"axis":{"orient":"left","title":"βᵢ (A/W)","values":[0,1,2,3,4,5,6,7,8,9,10,11,12,13,14,15,16,17,18],"labelExpr":"datum.value % 5 === 0 ? datum.label : ''","tickSize":{"condition":{"test":"datum.value % 5 === 0","value":-5},"value":-3},"labelPadding":11.7,"labelFontSize":17,"titleFontSize":17.5,"titleX":-45,"titleY":84.5,"titleAngle":-90,"titleBaseline":"middle","titleAlign":"center","domainColor":"#999999","tickColor":"#999999"}}
       },
       "layer":[
        {"data":{"values":[{"N":0.5,"v":1.2},{"N":18.6,"v":16.8}]},"mark":{"type":"line","color":"black","strokeWidth":1.3}},
        {"data":{"values":[{"N":1,"v":1.23},{"N":4,"v":3.51},{"N":8,"v":7.41},{"N":16,"v":14.48}]},"mark":{"type":"circle","size":90,"color":"black","opacity":1}},
        {"data":{"values":[{"N":9.77,"lo":9.0,"hi":14.3}]},"mark":{"type":"rule","color":"black","strokeWidth":1.3},"encoding":{"y":{"field":"lo","type":"quantitative"},"y2":{"field":"hi"}}},
        {"data":{"values":[{"N":9.77,"hi":14.3}]},"mark":{"type":"point","shape":"M0,-1L0.34,1L-0.34,1Z","filled":true,"color":"black","opacity":1,"size":196},"encoding":{"y":{"field":"hi","type":"quantitative"}}}
       ]
      },
      {
       "encoding":{
        "x":{"field":"W","type":"quantitative","scale":{"domain":[0,200],"nice":false,"zero":false},"axis":{"orient":"bottom","title":"Channel width W (nm)","values":[0,10,20,30,40,50,60,70,80,90,100,110,120,130,140,150,160,170,180,190,200],"labelExpr":"datum.value % 50 === 0 ? datum.label : ''","tickSize":{"condition":{"test":"datum.value % 50 === 0","value":-5},"value":-3},"labelPadding":14.3,"labelFontSize":17,"titleFontSize":17.5,"titleY":40,"titleBaseline":"middle","domainColor":"#999999","tickColor":"#999999"}},
        "y":{"field":"v","type":"quantitative","axis":{"orient":"right","values":[0,1,2,3,4,5,6,7,8,9,10,11,12,13,14,15,16,17,18],"labels":false,"title":null,"tickSize":{"condition":{"test":"datum.value % 5 === 0","value":-5},"value":-3},"domainColor":"#999999","tickColor":"#999999"}}
       },
       "layer":[
        {"data":{"values":[{"W":66,"v":1.15},{"W":176,"v":1.15}]},"mark":{"type":"line","color":"black","strokeWidth":1.3,"strokeDash":[9,6]}},
        {"data":{"values":[{"W":80,"v":1.23},{"W":100,"v":1.14},{"W":150,"v":1.14}]},"mark":{"type":"point","shape":"circle","filled":true,"fill":"white","stroke":"black","strokeWidth":1,"size":85,"opacity":1}},
        {"data":{"values":[{"W":5,"v":15.8,"t":"(d)"}]},"mark":{"type":"text","align":"left","baseline":"middle","fontSize":17},"encoding":{"text":{"field":"t"}}}
       ]
      }
     ],
     "resolve":{"scale":{"x":"independent"},"axis":{"x":"independent","y":"independent"}}
    },
    {
     "width":279,"height":133,
     "layer":[
      {
       "encoding":{
        "x":{"field":"N","type":"quantitative","scale":{"domain":[0,20],"nice":false,"zero":false},"axis":{"orient":"top","title":"Number of diodes (N)","values":[0,1,2,3,4,5,6,7,8,9,10,11,12,13,14,15,16,17,18,19,20],"labelExpr":"datum.value % 5 === 0 ? datum.label : ''","tickSize":{"condition":{"test":"datum.value % 5 === 0","value":-5},"value":-3},"labelPadding":10,"labelFontSize":17,"titleFontSize":17.5,"titleY":-40.6,"titleBaseline":"middle","domainColor":"#999999","tickColor":"#999999"}},
        "y":{"field":"v","type":"quantitative","scale":{"domain":[-40,0],"nice":false,"zero":false},"axis":{"orient":"left","title":"βᵥ (V/W)","values":[-40,-38,-36,-34,-32,-30,-28,-26,-24,-22,-20,-18,-16,-14,-12,-10,-8,-6,-4,-2,0],"labelExpr":"datum.value % 10 === 0 ? replace(datum.label, '−', '-') : ''","tickSize":{"condition":{"test":"datum.value % 10 === 0","value":-5},"value":-3},"labelPadding":11.7,"labelFontSize":17,"titleFontSize":17.5,"titleX":-57,"titleY":66.5,"titleAngle":-90,"titleBaseline":"middle","titleAlign":"center","domainColor":"#999999","tickColor":"#999999"}}
       },
       "layer":[
        {"data":{"values":[{"N":0.3,"v":-21.1},{"N":18.2,"v":-21.1}]},"mark":{"type":"line","color":"black","strokeWidth":1.3}},
        {"data":{"values":[{"N":1,"v":-29.0},{"N":4,"v":-20.1},{"N":8,"v":-20.6},{"N":16,"v":-21.4}]},"mark":{"type":"circle","size":90,"color":"black","opacity":1}},
        {"data":{"values":[{"N":5.45,"lo":-21.1,"hi":-10.0}]},"mark":{"type":"rule","color":"black","strokeWidth":1.3},"encoding":{"y":{"field":"lo","type":"quantitative"},"y2":{"field":"hi"}}},
        {"data":{"values":[{"N":5.45,"hi":-9.9}]},"mark":{"type":"point","shape":"M0,-1L0.34,1L-0.34,1Z","filled":true,"color":"black","opacity":1,"size":196},"encoding":{"y":{"field":"hi","type":"quantitative"}}}
       ]
      },
      {
       "encoding":{
        "x":{"field":"W","type":"quantitative","scale":{"domain":[0,200],"nice":false,"zero":false},"axis":{"orient":"bottom","title":"Channel width W (nm)","values":[0,10,20,30,40,50,60,70,80,90,100,110,120,130,140,150,160,170,180,190,200],"labelExpr":"datum.value % 50 === 0 ? datum.label : ''","tickSize":{"condition":{"test":"datum.value % 50 === 0","value":-5},"value":-3},"labelPadding":14.3,"labelFontSize":17,"titleFontSize":17.5,"titleY":40,"titleBaseline":"middle","domainColor":"#999999","tickColor":"#999999"}},
        "y":{"field":"v","type":"quantitative","axis":{"orient":"right","values":[-40,-38,-36,-34,-32,-30,-28,-26,-24,-22,-20,-18,-16,-14,-12,-10,-8,-6,-4,-2,0],"labels":false,"title":null,"tickSize":{"condition":{"test":"datum.value % 10 === 0","value":-5},"value":-3},"domainColor":"#999999","tickColor":"#999999"}}
       },
       "layer":[
        {"data":{"values":[{"W":62,"v":-40},{"W":70,"v":-34.2},{"W":80,"v":-28.8},{"W":90,"v":-23.8},{"W":100,"v":-20.3},{"W":110,"v":-17.4},{"W":120,"v":-15.0},{"W":130,"v":-13.0},{"W":140,"v":-11.3},{"W":150,"v":-10.0},{"W":160,"v":-8.7},{"W":170,"v":-7.5},{"W":180,"v":-6.4},{"W":190,"v":-5.4},{"W":200,"v":-4.5}]},"mark":{"type":"line","color":"black","strokeWidth":1.3,"strokeDash":[9,6]}},
        {"data":{"values":[{"W":80,"v":-28.8},{"W":100,"v":-20.0},{"W":150,"v":-10.0}]},"mark":{"type":"point","shape":"circle","filled":true,"fill":"white","stroke":"black","strokeWidth":1,"size":85,"opacity":1}},
        {"data":{"values":[{"W":91.7,"lo":-20.8,"hi":-35.0}]},"mark":{"type":"rule","color":"black","strokeWidth":1.3},"encoding":{"y":{"field":"lo","type":"quantitative"},"y2":{"field":"hi"}}},
        {"data":{"values":[{"W":91.7,"hi":-35.2}]},"mark":{"type":"point","shape":"M0,1L0.34,-1L-0.34,-1Z","filled":true,"color":"black","opacity":1,"size":196},"encoding":{"y":{"field":"hi","type":"quantitative"}}},
        {"data":{"values":[{"W":8.1,"v":-6.5,"t":"(e)"}]},"mark":{"type":"text","align":"left","baseline":"middle","fontSize":17},"encoding":{"text":{"field":"t"}}}
       ]
      }
     ],
     "resolve":{"scale":{"x":"independent"},"axis":{"x":"independent","y":"independent"}}
    }
   ],
   "spacing":35
  },
  {
   "width":279,"height":133,
   "layer":[
    {
     "encoding":{
      "x":{"field":"N","type":"quantitative","scale":{"domain":[0,20],"nice":false,"zero":false},"axis":{"orient":"top","title":"Number of diodes (N)","values":[0,1,2,3,4,5,6,7,8,9,10,11,12,13,14,15,16,17,18,19,20],"labelExpr":"datum.value % 5 === 0 ? datum.label : ''","tickSize":{"condition":{"test":"datum.value % 5 === 0","value":-5},"value":-3},"labelPadding":10,"labelFontSize":17,"titleFontSize":17.5,"titleY":-40.6,"titleBaseline":"middle","domainColor":"#999999","tickColor":"#999999"}},
      "y":{"field":"v","type":"quantitative","scale":{"domain":[0,40],"nice":false,"zero":false},"axis":{"orient":"left","title":"Rᴀᴄ (kΩ)","values":[0,2,4,6,8,10,12,14,16,18,20,22,24,26,28,30,32,34,36,38,40],"labelExpr":"datum.value % 10 === 0 ? datum.label : ''","tickSize":{"condition":{"test":"datum.value % 10 === 0","value":-5},"value":-3},"labelPadding":11.7,"labelFontSize":17,"titleFontSize":17.5,"titleX":-54,"titleY":66.5,"titleAngle":-90,"titleBaseline":"middle","titleAlign":"center","domainColor":"#999999","tickColor":"#999999"}}
     },
     "layer":[
      {"data":{"values":[{"N":0.64,"v":40},{"N":0.75,"v":34.5},{"N":0.9,"v":29.5},{"N":1,"v":27.2},{"N":1.25,"v":21.6},{"N":1.5,"v":17.8},{"N":2,"v":12.9},{"N":2.5,"v":10.2},{"N":3,"v":8.3},{"N":4,"v":5.95},{"N":5,"v":4.7},{"N":6,"v":3.85},{"N":8,"v":2.75},{"N":10,"v":2.15},{"N":12,"v":1.75},{"N":14,"v":1.45},{"N":16,"v":1.25},{"N":18,"v":1.1},{"N":20,"v":0.95}]},"mark":{"type":"line","color":"black","strokeWidth":1.3,"interpolate":"monotone"}},
      {"data":{"values":[{"N":1,"v":27.2},{"N":4,"v":5.9},{"N":8,"v":2.7},{"N":16,"v":1.2}]},"mark":{"type":"circle","size":90,"color":"black","opacity":1}},
      {"data":{"values":[{"N":2.36,"lo":11.2,"hi":22.3}]},"mark":{"type":"rule","color":"black","strokeWidth":1.3},"encoding":{"y":{"field":"lo","type":"quantitative"},"y2":{"field":"hi"}}},
      {"data":{"values":[{"N":2.36,"hi":22.3}]},"mark":{"type":"point","shape":"M0,-1L0.34,1L-0.34,1Z","filled":true,"color":"black","opacity":1,"size":196},"encoding":{"y":{"field":"hi","type":"quantitative"}}}
     ]
    },
    {
     "encoding":{
      "x":{"field":"W","type":"quantitative","scale":{"domain":[0,200],"nice":false,"zero":false},"axis":{"orient":"bottom","title":"Channel width W (nm)","values":[0,10,20,30,40,50,60,70,80,90,100,110,120,130,140,150,160,170,180,190,200],"labelExpr":"datum.value % 50 === 0 ? datum.label : ''","tickSize":{"condition":{"test":"datum.value % 50 === 0","value":-5},"value":-3},"labelPadding":14.3,"labelFontSize":17,"titleFontSize":17.5,"titleY":42,"titleBaseline":"middle","domainColor":"#999999","tickColor":"#999999"}},
      "y":{"field":"v","type":"quantitative","axis":{"orient":"right","values":[0,2,4,6,8,10,12,14,16,18,20,22,24,26,28,30,32,34,36,38,40],"labels":false,"title":null,"tickSize":{"condition":{"test":"datum.value % 10 === 0","value":-5},"value":-3},"domainColor":"#999999","tickColor":"#999999"}}
     },
     "layer":[
      {"data":{"values":[{"W":55.7,"v":40},{"W":60,"v":37},{"W":70,"v":31.5},{"W":80,"v":27.3},{"W":90,"v":23.8},{"W":100,"v":21.0},{"W":110,"v":18.6},{"W":120,"v":16.6},{"W":130,"v":15.0},{"W":140,"v":13.6},{"W":150,"v":12.4},{"W":160,"v":11.3},{"W":170,"v":10.3},{"W":180,"v":9.5},{"W":190,"v":8.7},{"W":200,"v":8.0}]},"mark":{"type":"line","color":"black","strokeWidth":1.3,"strokeDash":[9,6],"interpolate":"monotone"}},
      {"data":{"values":[{"W":80,"v":27.2},{"W":100,"v":20.9},{"W":150,"v":12.2}]},"mark":{"type":"point","shape":"circle","filled":true,"fill":"white","stroke":"black","strokeWidth":1,"size":85,"opacity":1}},
      {"data":{"values":[{"W":114,"lo":17.7,"hi":6.6}]},"mark":{"type":"rule","color":"black","strokeWidth":1.3},"encoding":{"y":{"field":"lo","type":"quantitative"},"y2":{"field":"hi"}}},
      {"data":{"values":[{"W":114,"hi":6.6}]},"mark":{"type":"point","shape":"M0,1L0.34,-1L-0.34,-1Z","filled":true,"color":"black","opacity":1,"size":196},"encoding":{"y":{"field":"hi","type":"quantitative"}}},
      {"data":{"values":[{"W":9.5,"v":33.7,"t":"(f)"}]},"mark":{"type":"text","align":"left","baseline":"middle","fontSize":17},"encoding":{"text":{"field":"t"}}}
     ]
    }
   ],
   "resolve":{"scale":{"x":"independent"},"axis":{"x":"independent","y":"independent"}}
  }
 ],
 "spacing":47
}
],
"spacing":18
}
